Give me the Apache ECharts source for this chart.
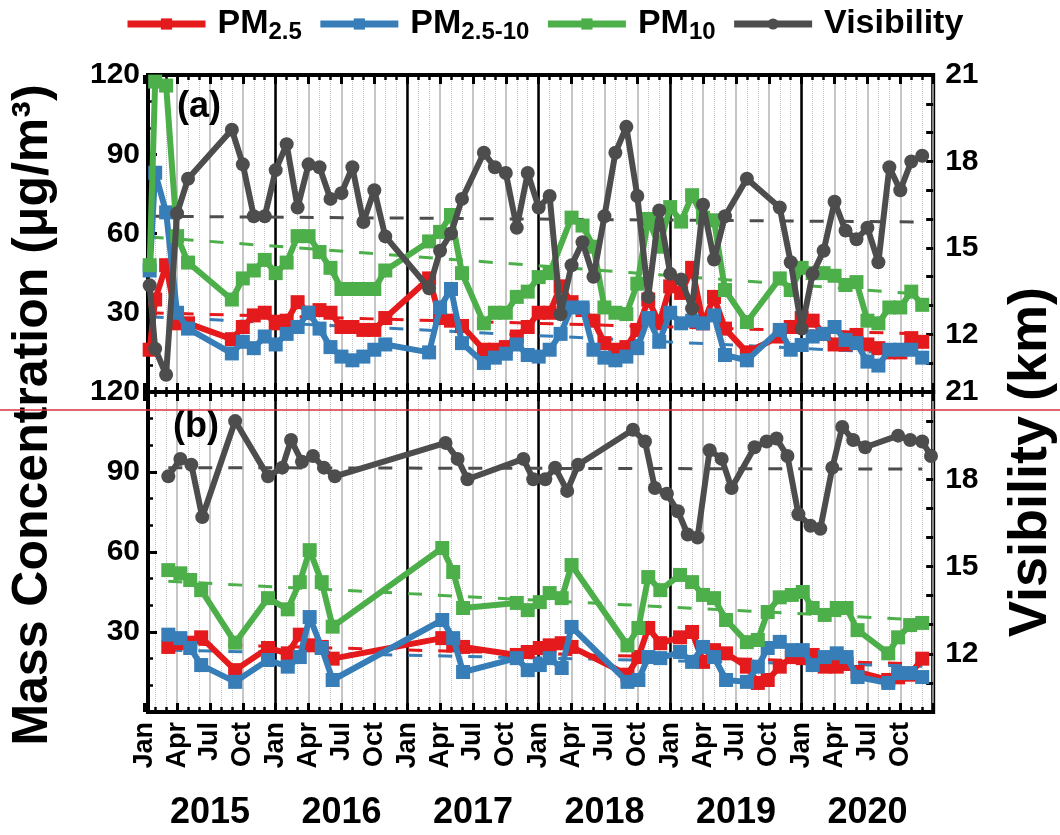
<!DOCTYPE html>
<html><head><meta charset="utf-8">
<script src="https://cdn.jsdelivr.net/npm/echarts@6/dist/echarts.min.js"></script>
<style>html,body{margin:0;padding:0;background:#fff}#c{width:1060px;height:835px}</style>
</head><body><div id="c"></div>
<script>
// ---------------- DATA ----------------
// x values: months since Jan 1, 2015 (0 = Jan 2015)
const monthLabels = ['Jan', 'Apr', 'Jul', 'Oct'];
const yearLabels = ['2015', '2016', '2017', '2018', '2019', '2020'];
const seriesNames = ['PM2.5', 'PM2.5-10', 'PM10', 'Visibility'];

// Panel (a)
const topX = [0.5,1,2,3,4, 8,9,10,11,12,13,14,15,16,17,18,19,20,21,22, 26,27,28,29,
  31,32,33,34,35,36,37,38,39,40,41,42,43,44,45,46,47,48,49,50,51,52,53, 55,
  58,59,60,61,62,63,64,65,66,67,68,69,70,71];
const topPM25 = [16,35,48,26,26, 20,24.6,29,30,26,27,34,30,31,30,24.6,24.6,23.5,23.5,28, 43,28,27,25,
  16,16,17,21,24.6,30,30,40,34,31,27,18.5,16,17,23.5,35,26,40,37.5,47,26,36,24, 15,
  21,24.6,28,27,22,18,18,21.6,18,16.6,15,15,20.4,19];
const topPMc = [46,83,68,30,24, 14.6,19,16.6,21,18,22,24.6,30,24,17,13.4,12,13.4,16,18, 15,32,39,18.5,
  11,13,14.5,18,14,13.4,16,22,32,32,16,13,12,13.4,16.6,28,19,30,26,27,26,29,14, 12,
  23.5,16,17.8,21,22,24.6,19.7,18.5,11.5,10,16,16,16,13];
const topPM10 = [48,117.5,116,59,49, 35,43,46,50,45,49,59,59,53,47,39,39,39,39,46, 57,60.6,67,45,
  26,30,30,36,38,43.5,45,null,66,63,55,32,30,29.5,41,65.5,55,70,64.5,74.5,66,65,38.6, 26.5,
  43,38.6,47,45,45,44,40.5,41.6,27,26,32,32,38,33];
const topVis = [13.7,11.5,10.6,16.2,17.4, 19.1,17.9,16.1,16.1,17.7,18.6,16.4,17.9,17.8,16.7,16.9,17.8,15.9,17.0,15.4, 13.6,14.9,15.5,16.7,
  18.3,17.8,17.6,15.7,17.6,16.4,16.8,12.7,14.4,15.2,14.0,16.1,18.3,19.2,16.8,13.3,16.3,14.1,13.9,12.9,16.5,14.6,16.1, 17.4,
  16.4,14.5,12.2,14.1,14.9,16.6,15.6,15.3,15.7,14.5,17.8,17.0,18.0,18.2];
// trend lines (a)
const topTrendX = [0.5, 71];
const topTrendPM25 = [30, 22];
const topTrendPMc = [28.5, 14.3];
const topTrendPM10 = [58.7, 37];
const topTrendVis = [16.1, 15.9];

// Panel (b)
const botX = [2.2,3.3,4.2,5.2,8.3,11.3, 13.1,14.2,15.1,16.2,17.2, 27.2,28.2,29.1,
  34.0,35.0,36.1,37.0,38.1,39.0,
  44.1,45.1,46.0,47.1,48.9,50.0,51.0,52.0,53.1,55.0,56.0,56.9,58.0,59.1,60.1,61.0,62.1,63.2,64.1,65.1,67.9,68.8,69.9,71.0];
const botPM25 = [24.4,25.8,26,28,15.7,24, 22,29,25,24.4,20, 27.7,25,24.4,
  21.4,22.5,24,25,25.8,24.4,
  14,20.6,31.5,25.8,28,30,18.8,23.2,22,17,10.9,12,17,20.6,20.2,21.4,17,17,18,15,12,13,14,20];
const botPMc = [29,27.7,24,17.6,11.3,19.5, 17,20.6,35.6,24,12, 34.5,27.7,15,
  20.2,15.7,17.6,20.2,16.5,31.9,
  11.3,12,20.6,20.2,22.5,18.8,24.4,20.6,12,11.3,17,24,26.3,23.2,23.2,17.6,20.6,22,20.6,13.1,10.9,14.6,14.6,13.1];
const botPM10 = [53.2,52,49.5,45.7,26,42.7, 38.5,48.7,60.7,48.7,32, 61.5,52.5,39,
  40.9,38.2,41.2,44.6,42.7,55.1,
  25,31.5,50.6,45.7,51.4,48.7,43.9,42.7,34.5,26.2,27,37.5,43,43.9,45,39,36.4,39,39,30.7,22,28,32.6,33.4];
const botVisX = [2.2,3.3,4.3,5.3,8.3,11.3,12.6,13.4,14.4,15.4,16.4,17.4, 27.5,28.6,29.5,
  34.6,35.5,36.6,37.5,38.6,39.6,
  44.6,45.7,46.6,47.7,48.7,49.6,50.5,51.6,52.7,53.6,55.7,56.8,57.7,58.7,59.7,60.8,61.7,62.8,63.7,64.7,65.8,68.8,69.9,71.0,71.8];
const botVis = [18.1,18.7,18.5,16.7,20.0,18.1,18.4,19.35,18.6,18.8,18.4,18.1, 19.25,18.7,18.0,
  18.7,18.0,18.0,18.4,17.6,18.5,
  19.7,19.3,17.7,17.5,16.9,16.1,16.0,19.0,18.7,17.7,19.1,19.3,19.4,18.8,16.8,16.4,16.3,18.4,19.8,19.35,19.1,19.5,19.35,19.3,18.8];
// trend lines (b)
const botTrendX = [2.2, 71];
const botTrendPM25 = [25.7, 18];
const botTrendPMc = [23.2, 17.2];
const botTrendPM10 = [49, 34.5];
const botTrendVis = [18.4, 18.35];

// ---------------- STYLE / LAYOUT ----------------
const COLORS = {pm25: '#e41a1c', pmc: '#377eb8', pm10: '#4daf4a', vis: '#4d4d4d'};
const FONT = '"Liberation Sans", Arial, Helvetica, sans-serif';
const JAN0 = 144.2, PXM = 10.958;         // pixel of Jan 2015, px per month
const DATA_LEFT = 148, RIGHT_EDGE = JAN0 + 72 * PXM;
const XMIN = (DATA_LEFT - JAN0) / PXM;
const PANELS = [{top: 75, height: 317}, {top: 392, height: 320}];

function pairs(xs, ys) { return xs.map((x, i) => [x, ys[i] == null ? '-' : ys[i]]); }

const grids = [];
PANELS.forEach(p => grids.push({left: DATA_LEFT, width: RIGHT_EDGE - DATA_LEFT, top: p.top, height: p.height,
  show: true, borderWidth: 4, borderColor: '#000', backgroundColor: 'transparent', containLabel: false, outerBoundsMode: 'none'}));
PANELS.forEach(p => grids.push({left: JAN0, width: 72 * PXM, top: p.top, height: p.height, show: false, containLabel: false, outerBoundsMode: 'none'}));

const tickStyle = {show: true, inside: true, length: 9, lineStyle: {color: '#000', width: 3}};
const minorTickStyle = {show: true, splitNumber: 3, length: 5, lineStyle: {color: '#000', width: 2.5}};
const quarterColors = Array.from({length: 25}, (_, i) => i === 0 ? 'rgba(0,0,0,0)' : '#b3b3b3');
const yearColors = Array.from({length: 7}, (_, i) => (i === 0 || i === 6) ? 'rgba(0,0,0,0)' : '#000');

const xAxes = [];
[0, 1].forEach(g => xAxes.push({gridIndex: g, type: 'value', min: XMIN, max: 72, show: false}));
[2, 3].forEach(g => {
  const isBottom = g === 3;
  xAxes.push({gridIndex: g, type: 'value', min: 0, max: 72, interval: 3, position: 'bottom',
    axisLine: {show: false}, axisTick: tickStyle, minorTick: minorTickStyle,
    axisLabel: isBottom ? {show: true, rotate: 90, margin: 10, fontSize: 27, fontWeight: 'bold', color: '#000', fontFamily: FONT,
      formatter: v => v >= 72 ? '' : monthLabels[Math.round(v / 3) % 4]} : {show: false},
    splitLine: {show: true, lineStyle: {color: quarterColors, width: 1.5, type: 'solid'}},
    minorSplitLine: {show: true, lineStyle: {color: '#c4c4c4', width: 1, type: 'dotted'}}});
  xAxes.push({gridIndex: g, type: 'value', min: 0, max: 72, interval: 3, position: 'top',
    axisLine: {show: false}, axisTick: tickStyle, minorTick: minorTickStyle, axisLabel: {show: false}, splitLine: {show: false}});
  xAxes.push({gridIndex: g, type: 'value', min: 0, max: 72, interval: 12, position: 'bottom',
    axisLine: {show: false}, axisTick: {show: false}, axisLabel: {show: false},
    splitLine: {show: true, lineStyle: {color: yearColors, width: 2.5, type: 'solid'}}});
  if (isBottom) {
    xAxes.push({gridIndex: g, type: 'value', min: 0, max: 72, interval: 6, position: 'bottom',
      axisLine: {show: false}, axisTick: {show: false}, splitLine: {show: false},
      axisLabel: {show: true, margin: 83, fontSize: 36, fontWeight: 'bold', color: '#000', fontFamily: FONT,
        formatter: v => (v % 12 === 6) ? yearLabels[(v - 6) / 12] : ''}});
  }
});

const yAxes = [];
[0, 1].forEach(g => {
  yAxes.push({gridIndex: g, type: 'value', position: 'left', min: 0, max: 120, interval: 30,
    axisLine: {show: false}, axisTick: tickStyle, minorTick: minorTickStyle, splitLine: {show: false},
    axisLabel: {margin: 8, fontSize: 30, fontWeight: 'bold', color: '#000', fontFamily: FONT, formatter: v => v === 0 ? '' : String(v)}});
  yAxes.push({gridIndex: g, type: 'value', position: 'right', min: 10, max: 21, interval: 1,
    axisLine: {show: false}, axisTick: {show: true, inside: true, length: 7, lineStyle: {color: '#000', width: 3}}, splitLine: {show: false},
    axisLabel: {margin: 12, fontSize: 30, fontWeight: 'bold', color: '#000', fontFamily: FONT, formatter: v => v % 3 === 0 ? String(v) : ''}});
});
[2, 3].forEach(g => yAxes.push({gridIndex: g, type: 'value', min: 0, max: 1, show: false}));

function dataSeries(name, xs, ys, xi, yi, color, symbol, size, z) {
  return {name, type: 'line', xAxisIndex: xi, yAxisIndex: yi, data: pairs(xs, ys), connectNulls: true,
    symbol, symbolSize: size, showSymbol: true, z,
    lineStyle: {color, width: 6}, itemStyle: {color, borderWidth: 0}, emphasis: {disabled: true}, animation: false};
}
function trendSeries(id, xs, ys, xi, yi, color) {
  return {name: id, type: 'line', xAxisIndex: xi, yAxisIndex: yi, data: pairs(xs, ys), symbol: 'none', z: 1, silent: true,
    lineStyle: {color, width: 3, type: [14, 16]}, animation: false};
}

const series = [
  trendSeries('t-a-pm25', topTrendX, topTrendPM25, 0, 0, COLORS.pm25),
  trendSeries('t-a-pmc', topTrendX, topTrendPMc, 0, 0, COLORS.pmc),
  trendSeries('t-a-pm10', topTrendX, topTrendPM10, 0, 0, COLORS.pm10),
  trendSeries('t-a-vis', topTrendX, topTrendVis, 0, 1, COLORS.vis),
  trendSeries('t-b-pm25', botTrendX, botTrendPM25, 1, 2, COLORS.pm25),
  trendSeries('t-b-pmc', botTrendX, botTrendPMc, 1, 2, COLORS.pmc),
  trendSeries('t-b-pm10', botTrendX, botTrendPM10, 1, 2, COLORS.pm10),
  trendSeries('t-b-vis', botTrendX, botTrendVis, 1, 3, COLORS.vis),
  dataSeries(seriesNames[0], topX, topPM25, 0, 0, COLORS.pm25, 'rect', 14, 2),
  dataSeries(seriesNames[1], topX, topPMc, 0, 0, COLORS.pmc, 'rect', 14, 3),
  dataSeries(seriesNames[2], topX, topPM10, 0, 0, COLORS.pm10, 'rect', 14, 4),
  dataSeries(seriesNames[3], topX, topVis, 0, 1, COLORS.vis, 'circle', 14, 5),
  dataSeries(seriesNames[0], botX, botPM25, 1, 2, COLORS.pm25, 'rect', 14, 2),
  dataSeries(seriesNames[1], botX, botPMc, 1, 2, COLORS.pmc, 'rect', 14, 3),
  dataSeries(seriesNames[2], botX, botPM10, 1, 2, COLORS.pm10, 'rect', 14, 4),
  dataSeries(seriesNames[3], botVisX, botVis, 1, 3, COLORS.vis, 'circle', 14, 5)
];

const legendRich = {
  a: {fontSize: 34, fontWeight: 'bold', color: '#000', fontFamily: FONT, lineHeight: 40, padding: [0, 0, 0, 7]},
  s: {fontSize: 24, fontWeight: 'bold', color: '#000', fontFamily: FONT, lineHeight: 18, verticalAlign: 'bottom'}
};
const legendText = {'PM2.5': '{a|PM}{s|2.5}', 'PM2.5-10': '{a|PM}{s|2.5-10}', 'PM10': '{a|PM}{s|10}', 'Visibility': '{a|Visibility}'};

const option = {
  animation: false,
  backgroundColor: '#fff',
  textStyle: {fontFamily: FONT},
  legend: {data: seriesNames, left: 119, top: 2, itemWidth: 78, itemHeight: 14, itemGap: 15,
    lineStyle: {width: 7}, formatter: n => legendText[n], textStyle: {rich: legendRich}, selectedMode: false},
  title: [
    {text: '(a)', left: 172, top: 84, padding: 5, textStyle: {fontSize: 36, fontWeight: 'bold', color: '#000', fontFamily: FONT}},
    {text: '(b)', left: 168, top: 404, padding: 5, textStyle: {fontSize: 36, fontWeight: 'bold', color: '#000', fontFamily: FONT}}
  ],
  grid: grids,
  xAxis: xAxes,
  yAxis: yAxes,
  series,
  graphic: [
    {type: 'text', x: 33, y: 415, rotation: Math.PI / 2, z: 50,
      style: {text: 'Mass Concentration (μg/m³)', fontSize: 50, fontWeight: 'bold', fontFamily: FONT, fill: '#000', align: 'center', verticalAlign: 'middle'}},
    {type: 'text', x: 1031, y: 462, rotation: Math.PI / 2, z: 50,
      style: {text: 'Visibility (km)', fontSize: 54, fontWeight: 'bold', fontFamily: FONT, fill: '#000', align: 'center', verticalAlign: 'middle'}},
    {type: 'line', shape: {x1: 0, y1: 410, x2: 1060, y2: 410}, z: 100, style: {stroke: '#d9363e', lineWidth: 1.5}}
  ]
};
const chart = echarts.init(document.getElementById('c'));
chart.setOption(option);
</script></body></html>
